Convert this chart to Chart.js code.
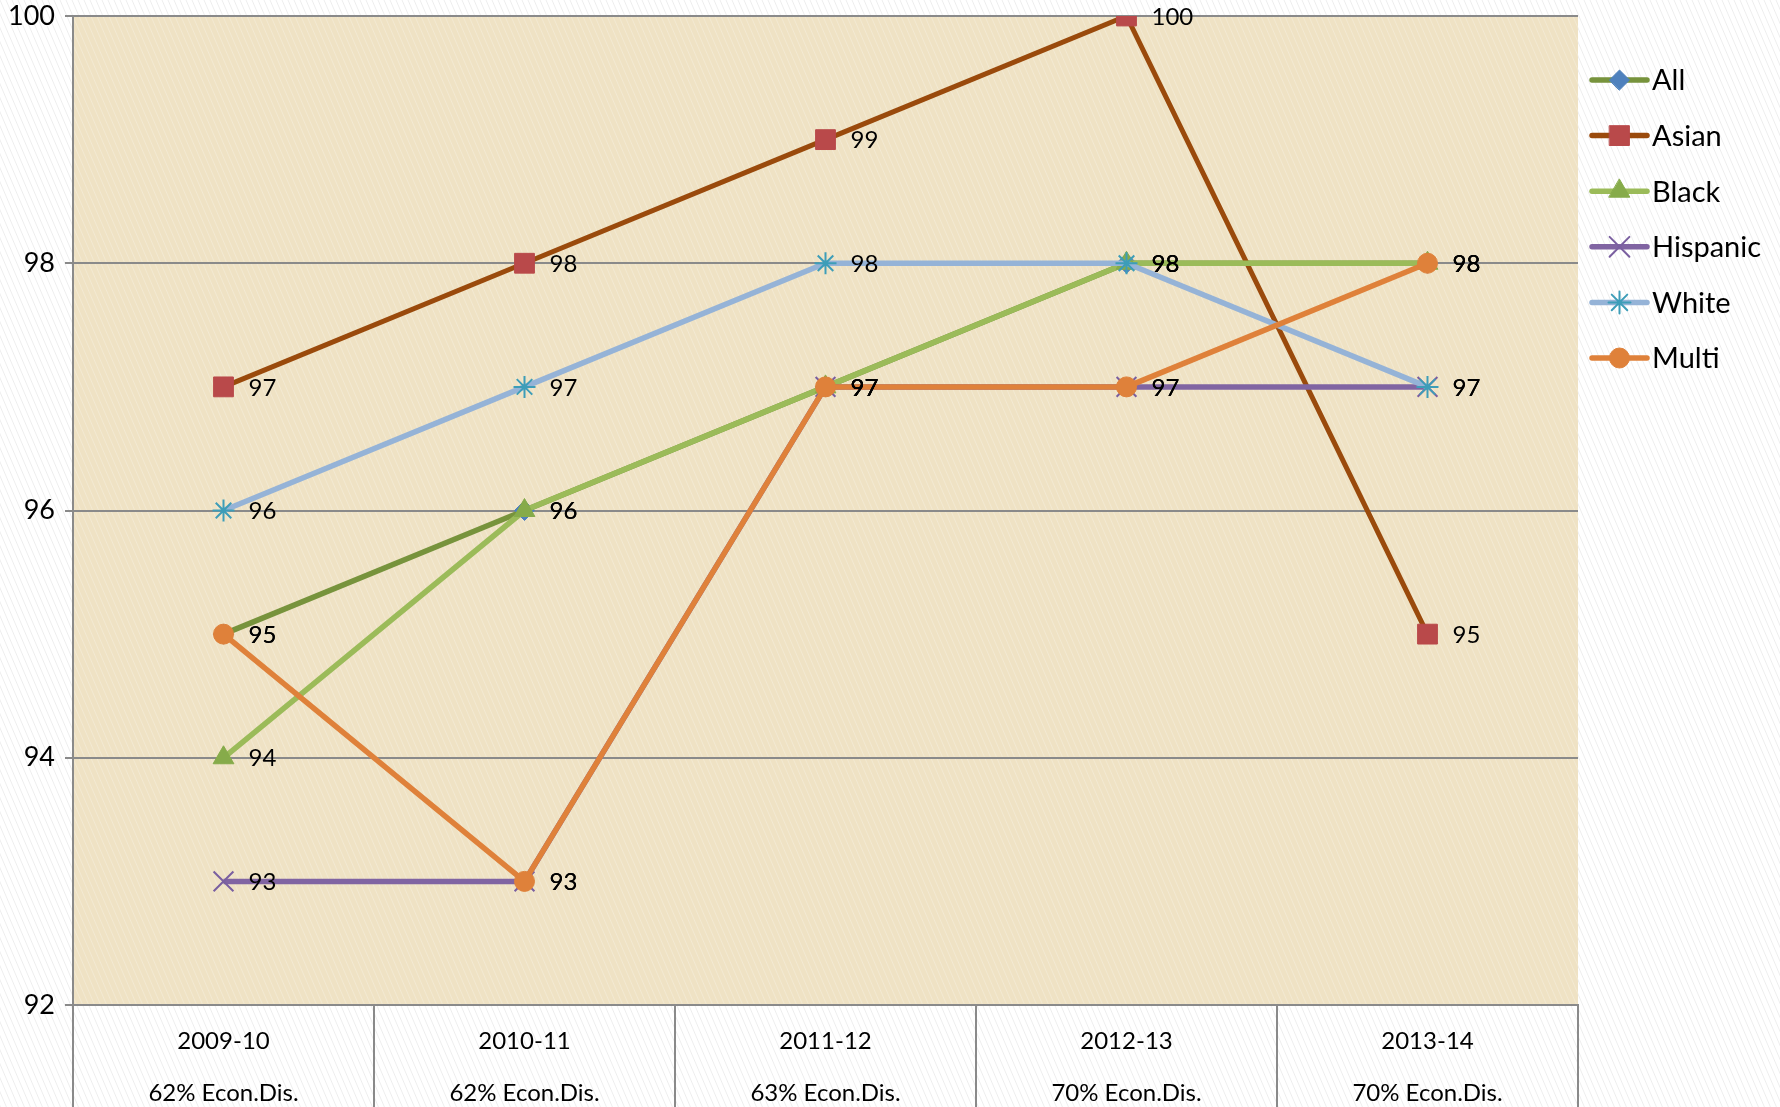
<!DOCTYPE html>
<html>
<head>
<meta charset="utf-8">
<title>Attendance by group</title>
<script src="https://cdn.jsdelivr.net/npm/chart.js@4.4.0/dist/chart.umd.min.js"></script>
<style>
    html, body { margin: 0; padding: 0; background: #fff; }
    #chart { display: block; }
</style>
</head>
<body>
<canvas id="chart" width="1780" height="1107"></canvas>
<script>
// categories and tick labels
var years = ['2009-10', '2010-11', '2011-12', '2012-13', '2013-14'];
var econDis = ['62% Econ.Dis.', '62% Econ.Dis.', '63% Econ.Dis.', '70% Econ.Dis.', '70% Econ.Dis.'];
var yTicks = [92, 94, 96, 98, 100];

// series values
var allStudents = [95, 96, 97, 98, 98];
var asian = [97, 98, 99, 100, 95];
var black = [94, 96, 97, 98, 98];
var hispanic = [93, 93, 97, 97, 97];
var white = [96, 97, 98, 98, 97];
var multi = [95, 93, 97, 97, 98];

var FONT = 'Lato, "Open Sans", sans-serif';

function stripes(ctx, color) {
    var c = document.createElement('canvas');
    c.width = 6;
    c.height = 14;
    var g = c.getContext('2d');
    g.strokeStyle = color;
    g.lineWidth = 1;
    g.beginPath();
    for (var k = -1; k <= 1; k++) {
        g.moveTo(k * 6, 0);
        g.lineTo(k * 6 + 6, 14);
    }
    g.stroke();
    return ctx.createPattern(c, 'repeat');
}

// page + plot area background
var paper = {
    id: 'paper',
    beforeDraw: function(chart) {
        var ctx = chart.ctx, a = chart.chartArea;
        ctx.save();
        ctx.fillStyle = '#ffffff';
        ctx.fillRect(0, 0, chart.width, chart.height);
        ctx.fillStyle = stripes(ctx, 'rgba(0,0,0,0.07)');
        ctx.fillRect(0, 0, chart.width, chart.height);
        ctx.fillStyle = '#efe2c4';
        ctx.fillRect(a.left, a.top, a.right - a.left, a.bottom - a.top);
        ctx.fillStyle = stripes(ctx, 'rgba(255,255,255,0.25)');
        ctx.fillRect(a.left, a.top, a.right - a.left, a.bottom - a.top);
        ctx.restore();
    }
};

// value next to every point
var pointLabels = {
    id: 'pointLabels',
    afterDatasetsDraw: function(chart) {
        var ctx = chart.ctx;
        ctx.save();
        ctx.font = '24px ' + FONT;
        ctx.fillStyle = '#000';
        ctx.textAlign = 'left';
        ctx.textBaseline = 'middle';
        chart.data.datasets.forEach(function(ds, i) {
            chart.getDatasetMeta(i).data.forEach(function(pt, j) {
                ctx.fillText(ds.data[j], pt.x + 25, pt.y + 1);
            });
        });
        ctx.restore();
    }
};

// legend with line + marker, like the spreadsheet one
var sideLegend = {
    id: 'sideLegend',
    afterDraw: function(chart) {
        var ctx = chart.ctx;
        var x0 = chart.chartArea.right + 14, x1 = x0 + 55;
        var top = 80, step = 55.6;
        chart.data.datasets.forEach(function(ds, i) {
            var y = top + i * step;
            ctx.save();
            ctx.strokeStyle = ds.borderColor;
            ctx.lineWidth = 5.5;
            ctx.lineCap = 'round';
            ctx.beginPath();
            ctx.moveTo(x0, y);
            ctx.lineTo(x1, y);
            ctx.stroke();
            ctx.fillStyle = ds.pointBackgroundColor;
            ctx.strokeStyle = ds.pointBorderColor;
            ctx.lineWidth = ds.pointBorderWidth;
            Chart.helpers.drawPoint(ctx, {
                pointStyle: ds.pointStyle,
                radius: ds.pointRadius,
                rotation: 0,
                borderWidth: ds.pointBorderWidth
            }, (x0 + x1) / 2, y);
            ctx.fillStyle = '#000';
            ctx.font = '29px ' + FONT;
            ctx.textAlign = 'left';
            ctx.textBaseline = 'middle';
            ctx.fillText(ds.label, x1 + 5, y + 1);
            ctx.restore();
        });
    }
};

var ctx = document.getElementById('chart').getContext('2d');
var chart = new Chart(ctx, {
    type: 'line',
    data: {
        labels: years.map(function(y, i) { return [y, econDis[i]]; }),
        datasets: [{
                label: 'All',
                data: allStudents,
                borderColor: '#77933c',
                borderWidth: 5.5,
                pointStyle: 'rectRot',
                pointRadius: 10,
                pointBackgroundColor: '#4f81bd',
                pointBorderColor: '#4f81bd',
                pointBorderWidth: 1,
                order: 6
            },
            {
                label: 'Asian',
                data: asian,
                borderColor: '#9a4a0c',
                borderWidth: 5,
                pointStyle: 'rect',
                pointRadius: 14,
                pointBackgroundColor: '#b9494a',
                pointBorderColor: '#b9494a',
                pointBorderWidth: 1,
                order: 5
            },
            {
                label: 'Black',
                data: black,
                borderColor: '#9bbb59',
                borderWidth: 5.5,
                pointStyle: 'triangle',
                pointRadius: 12,
                pointBackgroundColor: '#86ab4a',
                pointBorderColor: '#86ab4a',
                pointBorderWidth: 1,
                order: 4
            },
            {
                label: 'Hispanic',
                data: hispanic,
                borderColor: '#8064a2',
                borderWidth: 5.5,
                pointStyle: 'crossRot',
                pointRadius: 14,
                pointBackgroundColor: '#8064a2',
                pointBorderColor: '#7a5fa0',
                pointBorderWidth: 2,
                order: 3
            },
            {
                label: 'White',
                data: white,
                borderColor: '#95b3d7',
                borderWidth: 5.5,
                pointStyle: 'star',
                pointRadius: 11,
                pointBackgroundColor: '#4bacc6',
                pointBorderColor: '#3d9db8',
                pointBorderWidth: 2,
                order: 2
            },
            {
                label: 'Multi',
                data: multi,
                borderColor: '#df813a',
                borderWidth: 5.5,
                pointStyle: 'circle',
                pointRadius: 10,
                pointBackgroundColor: '#df813a',
                pointBorderColor: '#df813a',
                pointBorderWidth: 1,
                order: 1
            }
        ]
    },
    options: {
        responsive: false,
        devicePixelRatio: 1,
        animation: false,
        events: [],
        layout: {
            padding: { top: 16, right: 202, bottom: 0, left: 0 }
        },
        plugins: {
            legend: { display: false },
            tooltip: { enabled: false }
        },
        scales: {
            x: {
                offset: true,
                afterFit: function(scale) { scale.height = 102; },
                grid: {
                    offset: true,
                    drawOnChartArea: false,
                    tickLength: 102,
                    color: '#8a8a8a',
                    lineWidth: 2
                },
                border: { display: true, color: '#8a8a8a', width: 2 },
                ticks: {
                    color: '#000',
                    maxRotation: 0,
                    autoSkip: false,
                    padding: -92,
                    font: { family: FONT, size: 24, lineHeight: 52 / 24 }
                }
            },
            y: {
                min: yTicks[0],
                max: yTicks[yTicks.length - 1],
                afterFit: function(scale) {
                    scale.width = 73;
                    scale.paddingTop = 0;
                    scale.paddingBottom = 0;
                },
                grid: {
                    color: '#8a8a8a',
                    lineWidth: 2,
                    tickLength: 8
                },
                border: { display: true, color: '#8a8a8a', width: 2 },
                ticks: {
                    stepSize: yTicks[1] - yTicks[0],
                    color: '#000',
                    padding: 10,
                    font: { family: FONT, size: 27 }
                }
            }
        }
    },
    plugins: [paper, pointLabels, sideLegend]
});
</script>
</body>
</html>
